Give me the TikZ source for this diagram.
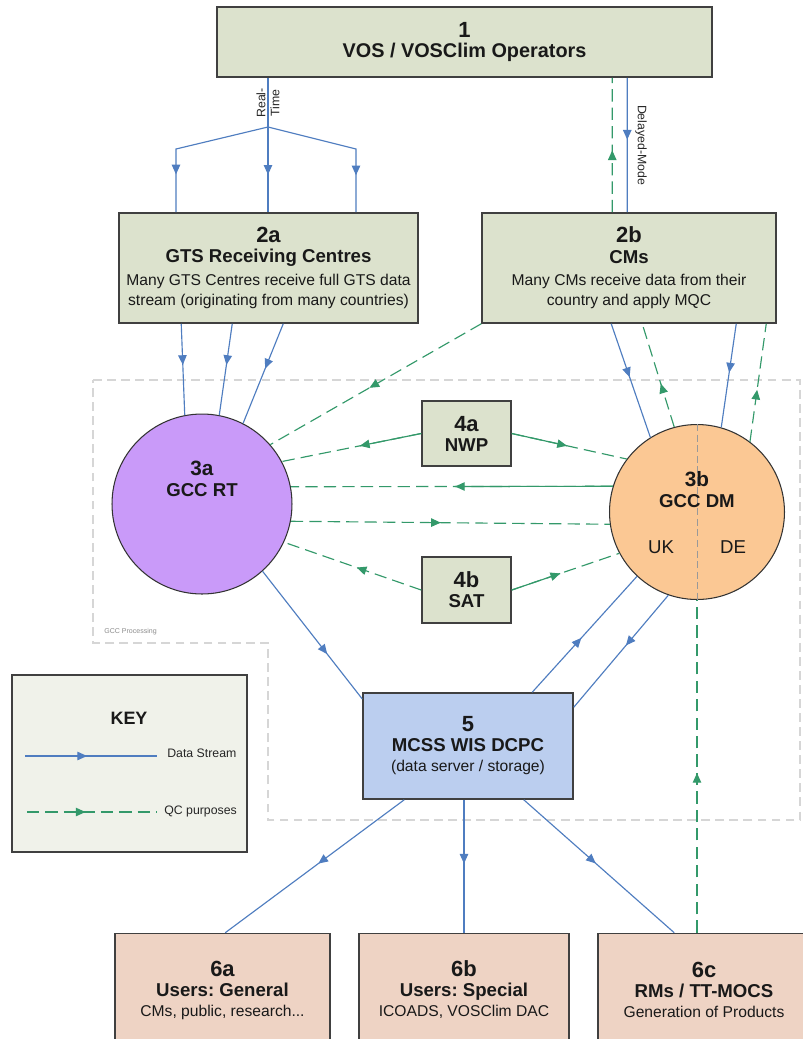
\documentclass[tikz,border=0pt]{standalone}
\usepackage{fontspec}
\setmainfont{Liberation Sans}
\usetikzlibrary{arrows.meta}
\usetikzlibrary{decorations.markings}
\usetikzlibrary{calc}
\frenchspacing

\definecolor{boxgreen}{HTML}{DCE2CD}
\definecolor{keyfill}{HTML}{F0F2EA}
\definecolor{userfill}{HTML}{EED3C4}
\definecolor{dcpcfill}{HTML}{BBCEEF}
\definecolor{rtpurple}{HTML}{C99AF9}
\definecolor{dmorange}{HTML}{FBC894}
\definecolor{datablue}{HTML}{4F7DC0}
\definecolor{qcgreen}{HTML}{33996A}
\definecolor{gccgrey}{HTML}{D6D6D6}

\newcommand{\numfont}{\fontsize{12.5}{13}\selectfont\bfseries}
\newcommand{\headfont}{\fontsize{10.6}{13.5}\selectfont\bfseries}
\newcommand{\descfont}{\fontsize{8.9}{11.4}\selectfont}

\tikzset{
  box/.style={rectangle, draw=black!75, line width=0.9pt, fill=boxgreen, align=center, inner sep=0pt, text=black!90, font=\descfont},
  circ/.style={circle, draw=black!80, line width=0.6pt, inner sep=0pt},
  circtext/.style={align=center, inner sep=0pt, text=black!90},
  data/.style={draw=datablue, line width=0.65pt},
  qc/.style={draw=qcgreen, line width=0.65pt, dash pattern=on 7pt off 3.5pt},
  qcsolid/.style={draw=qcgreen, line width=0.65pt},
  midarrow/.style={postaction={decorate}, decoration={markings, mark=at position #1 with {\arrow{Triangle[length=5.5pt, width=4.8pt]}}}},
  smalltext/.style={font=\fontsize{7}{8}\selectfont, inner sep=0pt, text=black!85},
  gccline/.style={draw=gccgrey, line width=0.8pt, dash pattern=on 5pt off 3pt}
}

\begin{document}
\begin{tikzpicture}[x=0.02cm, y=-0.02cm]
  \fill[white] (0,0) rectangle (803,1039);
  \useasboundingbox (0,0) rectangle (803,1039);

  % GCC processing area
  \draw[gccline] (93,380) -- (800,380) -- (800,820) -- (268,820) -- (268,643) -- (93,643) -- cycle;
  \node[anchor=west, inner sep=0pt, font=\fontsize{4}{5}\selectfont, text=black!45] (gcctext) at (104,632) {GCC Processing};

  % boxes
  \node[box, minimum width=9.9cm, minimum height=1.4cm] (vos) at (464.5,42)
    {\numfont 1\\\fontsize{11.3}{16}\selectfont\bfseries VOS / VOSClim Operators};
  \node[box, minimum width=5.98cm, minimum height=2.2cm] (gts) at (268.5,268)
    {\numfont 2a\\\headfont GTS Receiving Centres\\[1.5pt]Many GTS Centres receive full GTS data\\stream (originating from many countries)};
  \node[box, minimum width=5.88cm, minimum height=2.2cm] (cms) at (629,268)
    {\numfont 2b\\\headfont CMs\\[1.5pt]Many CMs receive data from their\\country and apply MQC};
  \node[box, minimum width=1.78cm, minimum height=1.3cm] (nwp) at (466.5,433.5)
    {\numfont 4a\\\headfont NWP};
  \node[box, minimum width=1.78cm, minimum height=1.32cm] (sat) at (466.5,590)
    {\numfont 4b\\\headfont SAT};
  \node[box, fill=dcpcfill, minimum width=4.2cm, minimum height=2.12cm] (dcpc) at (468,746)
    {\numfont 5\\\headfont MCSS WIS DCPC\\(data server / storage)};
  \node[box, fill=userfill, minimum width=4.3cm, minimum height=2.26cm] (gen) at (222.5,990)
    {\numfont 6a\\\headfont Users: General\\CMs, public, research...};
  \node[box, fill=userfill, minimum width=4.2cm, minimum height=2.26cm] (spec) at (464,990)
    {\numfont 6b\\\headfont Users: Special\\ICOADS, VOSClim DAC};
  \node[box, fill=userfill, minimum width=4.24cm, minimum height=2.26cm] (rms) at (704,990)
    {\numfont 6c\\\headfont RMs / TT-MOCS\\Generation of Products};

  % circles
  \node[circ, fill=rtpurple, minimum size=3.6cm] (rt) at (202,504) {};
  \node[circtext] (rttext) at (202,479) {\fontsize{11.8}{13}\selectfont\bfseries 3a\\\headfont GCC RT};
  \node[circ, fill=dmorange, minimum size=3.5cm] (dm) at (697,512) {};
  \draw[black!40, line width=0.5pt, dash pattern=on 4pt off 2pt] (dm.north) -- (dm.south);
  \node[circtext] (dmtext) at (697,490) {\fontsize{11.8}{13}\selectfont\bfseries 3b\\\headfont GCC DM};
  \node[circtext, font=\fontsize{10.6}{12}\selectfont] (uk) at (661,547) {UK};
  \node[circtext, font=\fontsize{10.6}{12}\selectfont] (de) at (733,547) {DE};

  % key
  \node[box, fill=keyfill, minimum width=4.7cm, minimum height=3.54cm] (key) at (129.5,763.5) {};
  \node[circtext, font=\fontsize{10.2}{12}\selectfont\bfseries] (keytitle) at (129,718) {KEY};
  \coordinate (keya) at (25,756);
  \coordinate (keyb) at (157,756);
  \coordinate (keyc) at (27,812);
  \coordinate (keyd) at (157,812);
  \draw[data, midarrow=0.47] (keya) -- (keyb);
  \draw[qc, midarrow=0.45] (keyc) -- (keyd);
  \node[smalltext, anchor=west] (keydata) at (167,753) {Data Stream};
  \node[smalltext, anchor=west] (keyqc) at (164,811) {QC purposes};

  % real-time feed
  \coordinate (split) at (268,127);
  \coordinate (rtl) at (176,149);
  \coordinate (rtr) at (356,149);
  \draw[data] (split |- vos.south) -- (split);
  \draw[data, midarrow=0.76] (split) -- (rtl) -- (rtl |- gts.north);
  \draw[data, midarrow=0.56] (split) -- (split |- gts.north);
  \draw[data, midarrow=0.76] (split) -- (rtr) -- (rtr |- gts.north);
  \node[smalltext, rotate=90, align=center] (rtlabel) at (268,103) {Real-\\Time};

  % delayed-mode feed
  \draw[data, midarrow=0.46] ($(vos.south west)+(411,0)$) -- ($(cms.north west)+(146,0)$);
  \draw[qc, midarrow=0.46] ($(cms.north west)+(131,0)$) -- ($(vos.south west)+(396,0)$);
  \node[smalltext, rotate=-90] (dmlabel) at (641,145) {Delayed-Mode};

  % GTS to GCC RT
  \draw[data, midarrow=0.45] ($(gts.south west)+(63,0)$) -- (rt.101);
  \draw[data, midarrow=0.45] ($(gts.south west)+(114,0)$) -- (rt.79);
  \draw[data, midarrow=0.45] ($(gts.south west)+(165,0)$) -- (rt.63);

  % CMs and GCC DM
  \draw[data, midarrow=0.47] ($(cms.south west)+(130,0)$) -- (dm.122);
  \draw[qc, midarrow=0.42] (dm.105) -- ($(cms.south west)+(161,0)$);
  \draw[data, midarrow=0.47] ($(cms.south west)+(255,0)$) -- (dm.74);
  \draw[qc, midarrow=0.44] (dm.53) -- ($(cms.south west)+(285,0)$);
  \draw[qc, midarrow=0.53] (cms.south west) -- (rt.41);

  % NWP and SAT
  \draw[qc, midarrow=0.44] (nwp.west) -- (rt.28);
  \draw[qcsolid] (nwp.west) -- ($(nwp.west)!0.44!(rt.28)$);
  \draw[qc, midarrow=0.48] (nwp.east) -- (dm.143);
  \draw[qcsolid] (nwp.east) -- ($(nwp.east)!0.48!(dm.143)$);
  \draw[qc, midarrow=0.47] (sat.west) -- (rt.-25);
  \draw[qc, midarrow=0.45] (sat.east) -- (dm.208);
  \draw[qcsolid] (sat.east) -- ($(sat.east)!0.45!(dm.208)$);

  % RT <-> DM
  \draw[qc, midarrow=0.49] (dm.163) -- (rt.11);
  \draw[qcsolid] (dm.163) -- ($(dm.163)!0.49!(rt.11)$);
  \draw[qc, midarrow=0.47] (rt.-11) -- (dm.188);

  % DCPC links
  \draw[data, midarrow=0.65] (rt.-48) -- (dcpc.156);
  \draw[data, midarrow=0.47] ($(dcpc.north west)+(170,0)$) -- (dm.227);
  \draw[data, midarrow=0.45] (dm.251) -- ($(dcpc.north east)+(0,15)$);
  \draw[qc, midarrow=0.48] (rms.north -| dm.south) -- (dm.south);

  % to users
  \draw[data, midarrow=0.48] ($(dcpc.south west)+(42,0)$) -- ($(gen.north west)+(111,0)$);
  \draw[data, midarrow=0.48] (dcpc.south -| spec.north) -- (spec.north);
  \draw[data, midarrow=0.48] ($(dcpc.south east)+(-50,0)$) -- ($(rms.north west)+(77,0)$);
\end{tikzpicture}
\end{document}
